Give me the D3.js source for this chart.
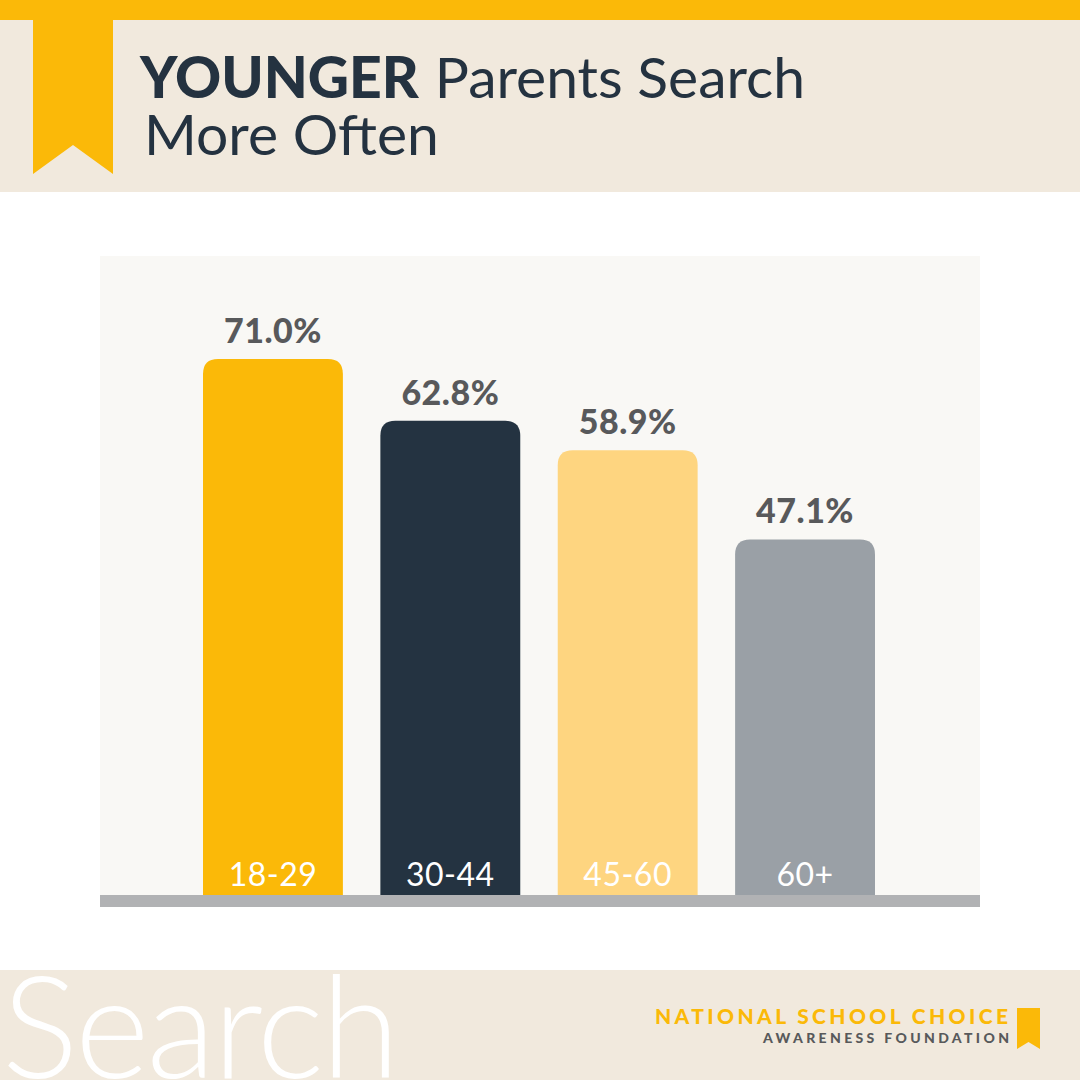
<!DOCTYPE html>
<html>
<head>
<meta charset="utf-8">
<script src="https://cdn.jsdelivr.net/npm/d3@7"></script>
<style>
  html, body { margin: 0; padding: 0; background: #fff; }
  svg { display: block; }
</style>
</head>
<body>
<div id="chart"></div>
<script>
// data
const categories = ["18-29", "30-44", "45-60", "60+"];
const values = [71.0, 62.8, 58.9, 47.1];
const barColors = ["#fbb908", "#243341", "#fed580", "#9aa0a6"];

const W = 1080, H = 1080;
const yellow = "#fbb908", navy = "#243240", beige = "#f1e9dd";
const FONT = "Lato, 'Open Sans', sans-serif";

const svg = d3.select("#chart").append("svg")
  .attr("width", W).attr("height", H)
  .attr("viewBox", [0, 0, W, H]);

// spread letters so the text covers a given width
function fitSpacing(sel, width) {
  const node = sel.node();
  const n = sel.text().length;
  const natural = node.getComputedTextLength();
  sel.style("letter-spacing", ((width - natural) / (n - 1)) + "px");
}

// header
svg.append("rect").attr("x", 0).attr("y", 0).attr("width", W).attr("height", 20).attr("fill", yellow);
svg.append("rect").attr("x", 0).attr("y", 20).attr("width", W).attr("height", 172).attr("fill", beige);
svg.append("path")
  .attr("d", "M33,20 H113 V174 L73,145 L33,174 Z")
  .attr("fill", yellow);

const title = svg.append("text")
  .attr("x", 140).attr("y", 98)
  .attr("fill", navy)
  .style("font-family", FONT)
  .style("font-size", "57px");
title.append("tspan").attr("font-weight", 900).text("YOUNGER");
title.append("tspan").attr("font-weight", 400).attr("dx", 16).text("Parents Search");

svg.append("text")
  .attr("x", 144).attr("y", 155)
  .attr("fill", navy)
  .style("font-family", FONT)
  .style("font-size", "57px")
  .attr("font-weight", 400)
  .text("More Often");

// chart panel
svg.append("rect").attr("x", 100).attr("y", 256).attr("width", 880).attr("height", 640).attr("fill", "#f9f8f5");

const x = d3.scaleBand()
  .domain(categories)
  .range([203, 875])
  .paddingInner(0.2113)
  .paddingOuter(0);

const y = d3.scaleLinear().domain([0, 100]).range([895, 140]);

function topRounded(x0, y0, w, h, r) {
  return `M${x0},${y0 + h} V${y0 + r} Q${x0},${y0} ${x0 + r},${y0} H${x0 + w - r} Q${x0 + w},${y0} ${x0 + w},${y0 + r} V${y0 + h} Z`;
}

const rows = categories.map((c, i) => ({ c, v: values[i], color: barColors[i] }));

svg.append("g").selectAll("path")
  .data(rows)
  .join("path")
  .attr("d", d => topRounded(x(d.c), y(d.v), x.bandwidth(), y(0) - y(d.v), 15))
  .attr("fill", d => d.color);

svg.append("g").selectAll("text")
  .data(rows)
  .join("text")
  .attr("x", d => x(d.c) + x.bandwidth() / 2)
  .attr("y", d => y(d.v) - 16)
  .attr("text-anchor", "middle")
  .attr("fill", "#58595b")
  .style("font-family", FONT)
  .style("font-size", "34px")
  .style("font-weight", 900)
  .style("letter-spacing", "0.5px")
  .text(d => d.v.toFixed(1) + "%");

svg.append("g").selectAll("text")
  .data(rows)
  .join("text")
  .attr("x", d => x(d.c) + x.bandwidth() / 2)
  .attr("y", 886)
  .attr("text-anchor", "middle")
  .attr("fill", "#fff")
  .style("font-family", FONT)
  .style("font-size", "32px")
  .style("font-weight", 400)
  .style("letter-spacing", "0.5px")
  .text(d => d.c);

// baseline
svg.append("rect").attr("x", 100).attr("y", 895).attr("width", 880).attr("height", 12).attr("fill", "#b1b2b4");

// footer
svg.append("rect").attr("x", 0).attr("y", 970).attr("width", W).attr("height", 110).attr("fill", beige);
const big = svg.append("text")
  .attr("x", 2)
  .attr("fill", "#fff")
  .style("font-family", FONT)
  .style("font-size", "160px")
  .style("font-weight", 300)
  .style("letter-spacing", "-3px")
  .text("Search");
{
  // shrink so the word ends near x = 397, keep the cap top near y = 975
  const w0 = big.node().getComputedTextLength();
  const fs = 160 * 395 / w0;
  big.style("font-size", fs + "px").style("letter-spacing", (-3 * fs / 160) + "px")
    .attr("y", 975 + 0.72 * fs);
}

const nscf = svg.append("text")
  .attr("x", 655).attr("y", 1024)
  .attr("fill", yellow)
  .style("font-family", FONT)
  .style("font-size", "21px")
  .style("font-weight", 900)
  .text("NATIONAL SCHOOL CHOICE");
fitSpacing(nscf, 353);

const awf = svg.append("text")
  .attr("x", 763).attr("y", 1043)
  .attr("fill", "#58595b")
  .style("font-family", FONT)
  .style("font-size", "14px")
  .style("font-weight", 900)
  .text("AWARENESS FOUNDATION");
fitSpacing(awf, 246);

svg.append("path")
  .attr("d", "M1017,1008 H1040 V1049 L1028.5,1042 L1017,1049 Z")
  .attr("fill", yellow);
</script>
</body>
</html>
